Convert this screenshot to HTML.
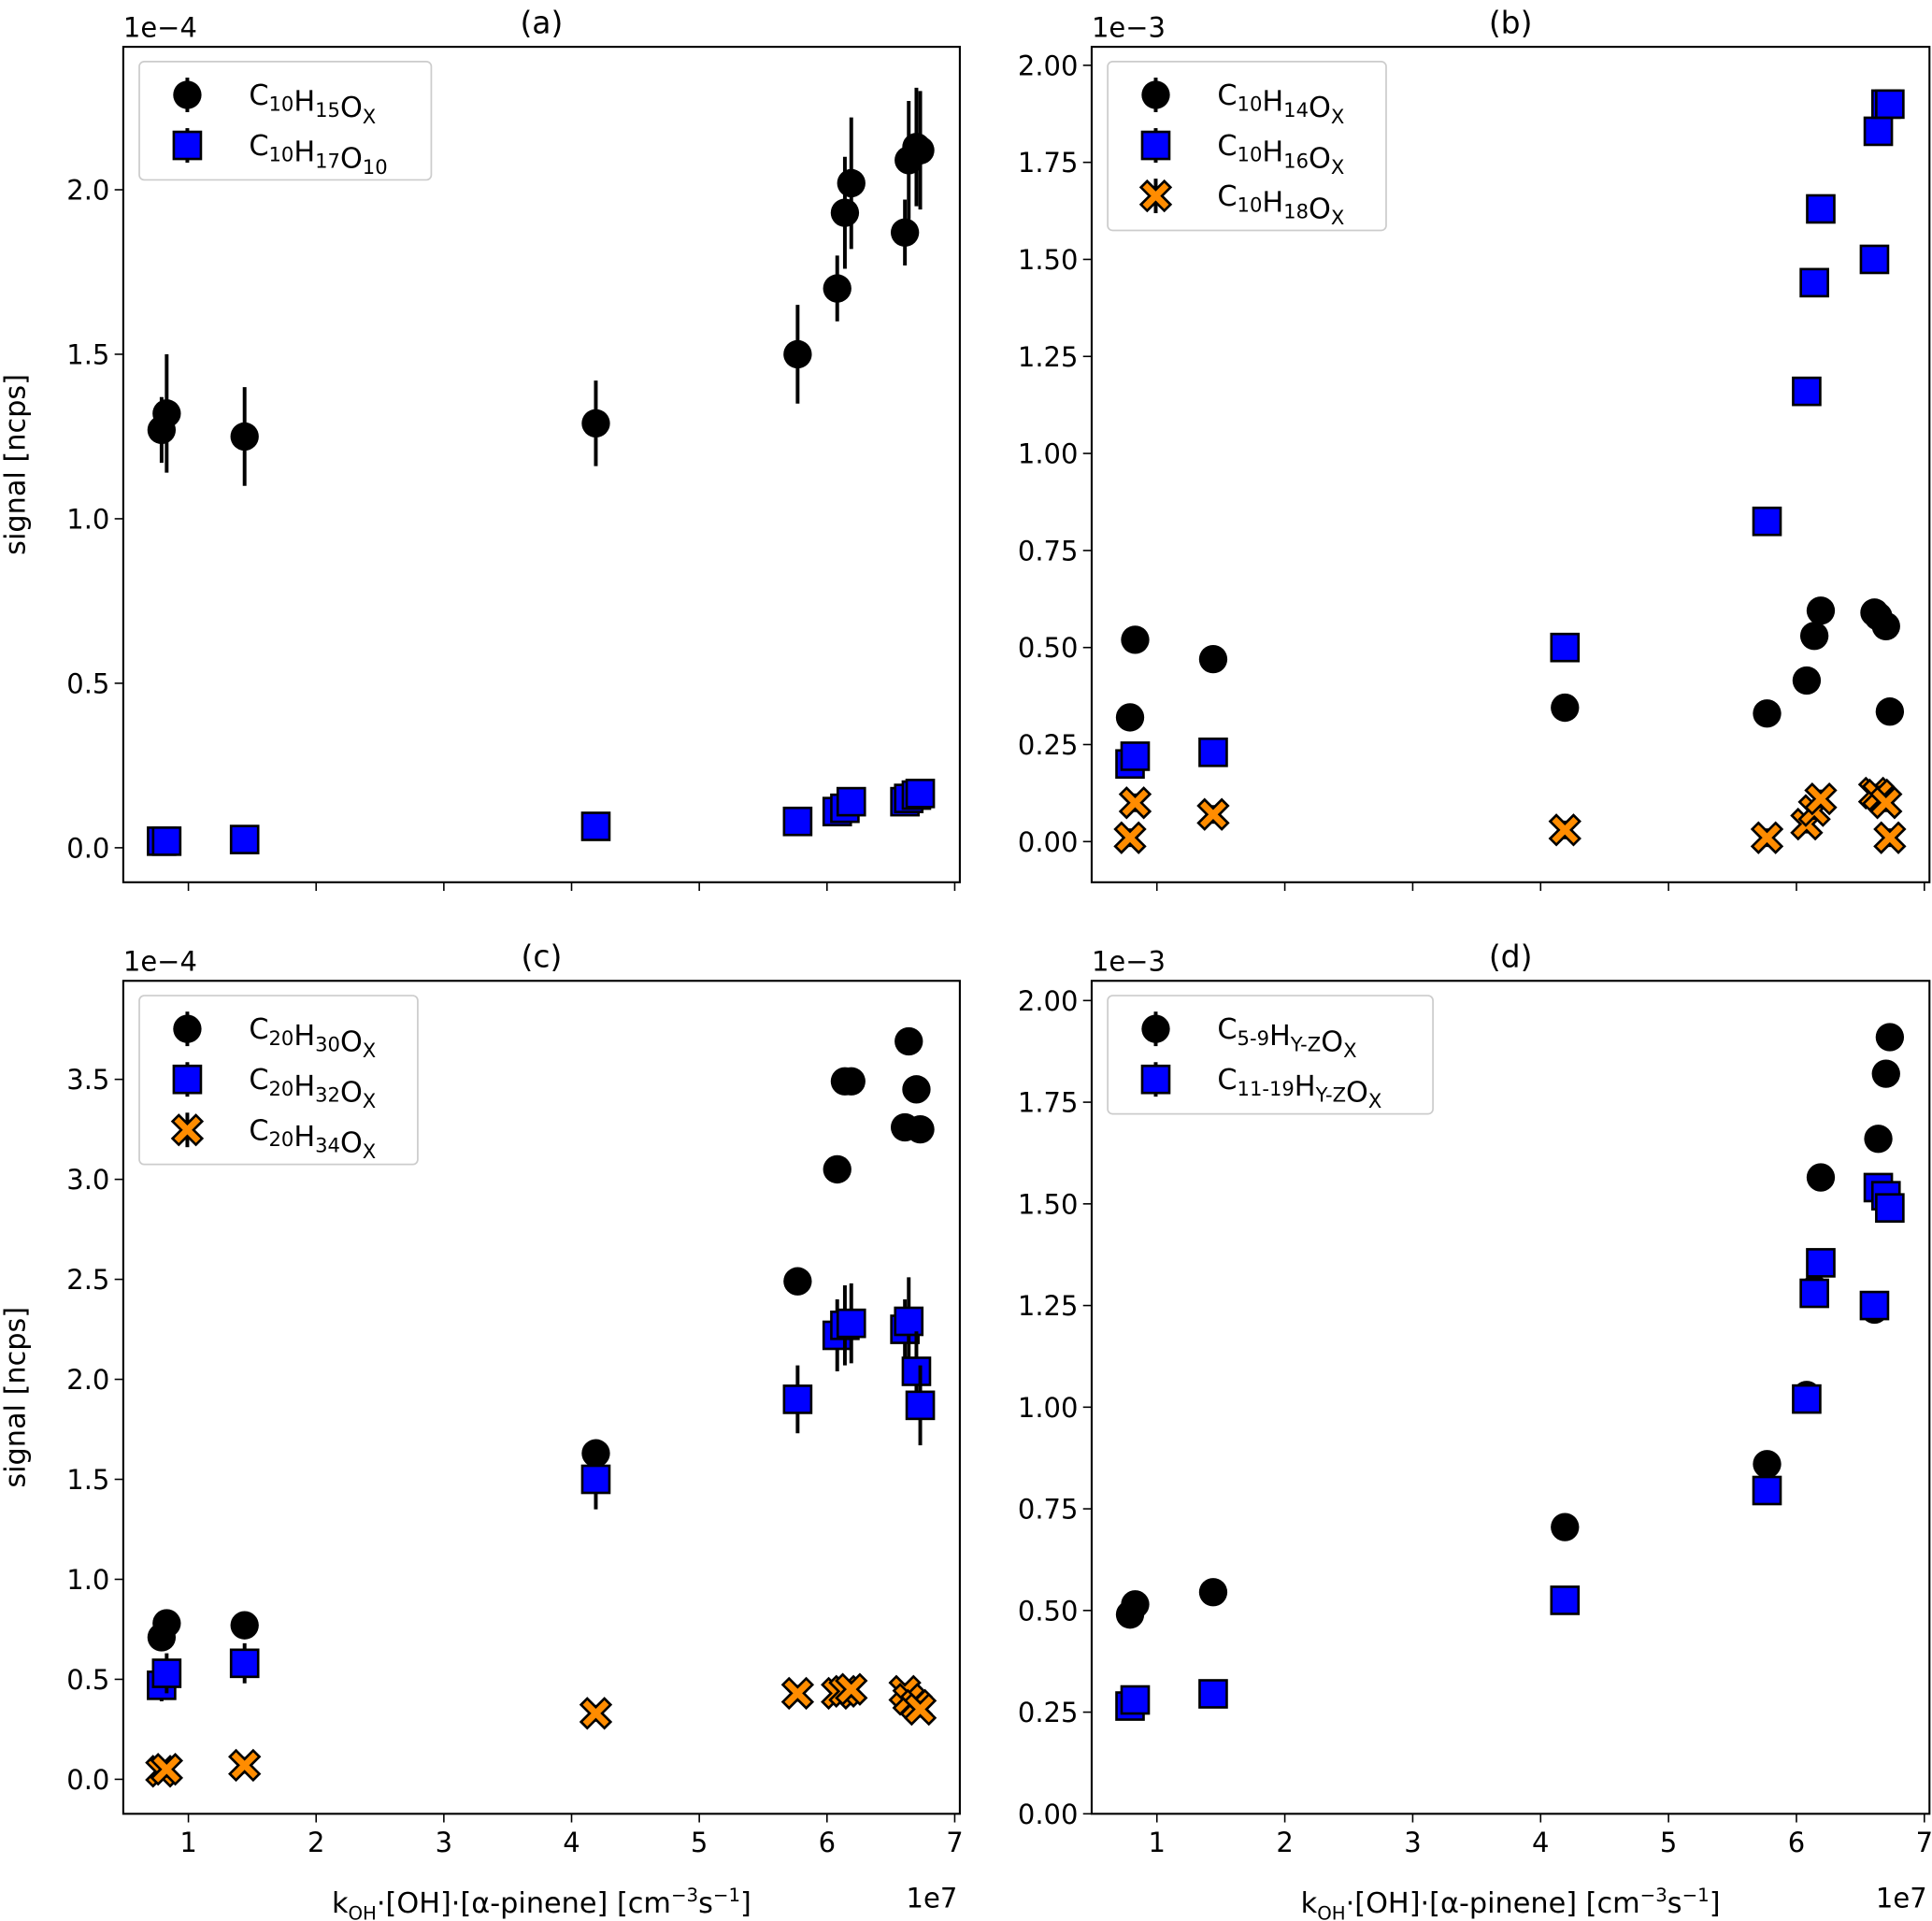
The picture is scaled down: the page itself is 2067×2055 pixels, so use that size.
<!DOCTYPE html>
<html><head><meta charset="utf-8"><style>
html,body{margin:0;padding:0;background:#fff}
svg{display:block;font-family:"DejaVu Sans","Liberation Sans",sans-serif}
</style></head><body>
<svg id="fig" width="2067" height="2055" viewBox="0 0 1568 1559" xmlns="http://www.w3.org/2000/svg"></svg>
<script>
const xVals=[0.79,0.83,1.44,4.19,5.77,6.08,6.14,6.19,6.61,6.64,6.70,6.73];
const xTicks=[1,2,3,4,5,6,7];
const aBlack=[1.27,1.32,1.25,1.29,1.50,1.70,1.93,2.02,1.87,2.09,2.13,2.12];
const aBlackErr=[0.1,0.18,0.15,0.13,0.15,0.1,0.17,0.2,0.1,0.18,0.18,0.18];
const aBlue=[0.02,0.02,0.025,0.065,0.08,0.11,0.12,0.14,0.14,0.15,0.16,0.165];
const bBlack=[0.32,0.52,0.47,0.345,0.33,0.415,0.53,0.595,0.59,0.58,0.555,0.335];
const bBlue=[0.20,0.22,0.23,0.50,0.825,1.16,1.44,1.63,1.50,1.83,1.90,1.90];
const bOrange=[0.01,0.10,0.07,0.03,0.01,0.045,0.08,0.11,0.125,0.12,0.10,0.01];
const cBlack=[0.71,0.78,0.77,1.63,2.49,3.05,3.49,3.49,3.26,3.69,3.45,3.25];
const cBlue=[0.47,0.53,0.58,1.50,1.90,2.22,2.27,2.28,2.25,2.29,2.04,1.87];
const cBlueErr=[0.08,0.1,0.1,0.15,0.17,0.18,0.2,0.2,0.15,0.22,0.2,0.2];
const cOrange=[0.04,0.05,0.07,0.33,0.43,0.43,0.44,0.45,0.44,0.40,0.37,0.35];
const dBlack=[0.49,0.515,0.545,0.705,0.86,1.03,1.29,1.565,1.24,1.66,1.82,1.91];
const dBlue=[0.265,0.28,0.295,0.525,0.795,1.02,1.28,1.355,1.25,1.54,1.52,1.49];
const aTicks=[0,0.5,1.0,1.5,2.0], aLabels=["0.0","0.5","1.0","1.5","2.0"];
const bTicks=[0,0.25,0.5,0.75,1,1.25,1.5,1.75,2], bLabels=["0.00","0.25","0.50","0.75","1.00","1.25","1.50","1.75","2.00"];
const cTicks=[0,0.5,1,1.5,2,2.5,3,3.5], cLabels=["0.0","0.5","1.0","1.5","2.0","2.5","3.0","3.5"];

const NS="http://www.w3.org/2000/svg", svg=document.getElementById('fig');
function el(tag,attrs,parent,text){const e=document.createElementNS(NS,tag);for(const k in attrs)e.setAttribute(k,attrs[k]);if(text!==undefined)e.textContent=text;(parent||svg).appendChild(e);return e;}

function panel(p){
  const g=el('g',{});
  
  
  const X=v=>p.l+(v-0.49)/(7.04-0.49)*(p.r-p.l);
  const Y=v=>p.y0+(v-p.v0)*p.k;
  xTicks.forEach(t=>{
    const ln=el('line',{x1:X(t),x2:X(t),y1:p.b,y2:p.b+7,stroke:'#000','stroke-width':1.2},g);
    
    if(p.xlab){const tx=el('text',{x:X(t),y:p.b+31,'font-size':22,'text-anchor':'middle'},g,String(t));
      }
  });
  p.yt.forEach((t,i)=>{
    const ln=el('line',{x1:p.l-7,x2:p.l,y1:Y(t),y2:Y(t),stroke:'#000','stroke-width':1.2},g);
    
    const tx=el('text',{x:p.l-11,y:Y(t)+8,'font-size':22,'text-anchor':'end'},g,p.yl[i]);
    
  });
  p.series.forEach(s=>{
    const sg=el('g',{},g);
    
    s.vals.forEach((v,i)=>{
      const cx=X(xVals[i]),cy=Y(v),e=s.err?s.err[i]:0.012*(p.yt[p.yt.length-1]);
      const eb=el('line',{x1:cx,x2:cx,y1:Y(v-e),y2:Y(v+e),stroke:'#000','stroke-width':3},sg);
      
      let m;
      if(s.m==='o') m=el('circle',{cx:cx,cy:cy,r:11.5,fill:'#000'},sg);
      else if(s.m==='s') m=el('rect',{x:cx-11,y:cy-11,width:22,height:22,fill:'#0000ff',stroke:'#000','stroke-width':2},sg);
      else m=el('path',{d:xPath(cx,cy,12),fill:'#ff8c00',stroke:'#000','stroke-width':2},sg);
      
    });
  });
  const fr=el('rect',{x:p.l,y:p.t,width:p.r-p.l,height:p.b-p.t,fill:'none',stroke:'#000','stroke-width':1.6},g);
  
  const ot=el('text',{x:p.l,y:p.t-8,'font-size':22},g,p.off);
  
  const ti=el('text',{x:(p.l+p.r)/2,y:p.t-11,'font-size':25,'text-anchor':'middle'},g,'('+p.id+')');
  
  if(p.ylab){const yl=el('text',{x:0,y:0,'font-size':23,'text-anchor':'middle',transform:`translate(20,${(p.t+p.b)/2}) rotate(-90)`},g,'signal [ncps]');
    }
  if(p.xlab){
    const xl=el('text',{x:(p.l+p.r)/2,y:p.b+80,'font-size':23,'text-anchor':'middle'},g);
    xl.innerHTML='k<tspan font-size="15" dy="6">OH</tspan><tspan dy="-6">·[OH]·[α-pinene] [cm</tspan><tspan font-size="15" dy="-9">−3</tspan><tspan dy="9">s</tspan><tspan font-size="15" dy="-9">−1</tspan><tspan dy="9">]</tspan>';
    
    const ex=el('text',{x:p.r-2,y:p.b+76,'font-size':22,'text-anchor':'end'},g,'1e7');
    
  }
  const L=p.leg;
  const lg=el('g',{},g);
  el('rect',{x:p.l+13,y:p.t+12,width:L.w,height:L.items.length*41+14,rx:4,fill:'#fff',stroke:'#ccc','stroke-width':1.3},lg);
  L.items.forEach((it,i)=>{
    const cy=p.t+39+i*41,cx=p.l+52;
    const eg=el('g',{},lg);
    el('line',{x1:cx,x2:cx,y1:cy-14,y2:cy+14,stroke:'#000','stroke-width':3},eg);
    if(it.m==='o') el('circle',{cx:cx,cy:cy,r:11.5,fill:'#000'},eg);
    else if(it.m==='s') el('rect',{x:cx-11,y:cy-11,width:22,height:22,fill:'#0000ff',stroke:'#000','stroke-width':2},eg);
    else el('path',{d:xPath(cx,cy,12),fill:'#ff8c00',stroke:'#000','stroke-width':2},eg);
    const t=el('text',{x:p.l+102,y:cy+8,'font-size':23},eg);t.innerHTML=it.html;
  });
}
function xPath(cx,cy,r){const a=r*0.42;
  const pts=[[-r+a,-r],[0,-a],[r-a,-r],[r,-r+a],[a,0],[r,r-a],[r-a,r],[0,a],[-r+a,r],[-r,r-a],[-a,0],[-r,-r+a]];
  return 'M'+pts.map(q=>(cx+q[0])+','+(cy+q[1])).join('L')+'Z';}
const sub=s=>`<tspan font-size="16" dy="5">${s}</tspan><tspan dy="-5"></tspan>`;
const f=(a,b,c)=>'C'+sub(a)+'H'+sub(b)+'O'+sub(c);

panel({id:'a',l:100,r:779,t:38,b:716,y0:688,v0:0,k:-267,yt:aTicks,yl:aLabels,off:'1e−4',ylab:true,xlab:false,
  series:[{name:'c10h15ox',m:'o',vals:aBlack,err:aBlackErr},{name:'c10h17o10',m:'s',vals:aBlue}],
  leg:{w:237,items:[{m:'o',html:f('10','15','X')},{m:'s',html:f('10','17','10')}]}});
panel({id:'b',l:886,r:1566,t:38,b:716,y0:683,v0:0,k:-315,yt:bTicks,yl:bLabels,off:'1e−3',ylab:false,xlab:false,
  series:[{name:'c10h14ox',m:'o',vals:bBlack},{name:'c10h16ox',m:'s',vals:bBlue},{name:'c10h18ox',m:'x',vals:bOrange}],
  leg:{w:226,items:[{m:'o',html:f('10','14','X')},{m:'s',html:f('10','16','X')},{m:'x',html:f('10','18','X')}]}});
panel({id:'c',l:100,r:779,t:796,b:1472,y0:1444,v0:0,k:-162.3,yt:cTicks,yl:cLabels,off:'1e−4',ylab:true,xlab:true,
  series:[{name:'c20h30ox',m:'o',vals:cBlack},{name:'c20h32ox',m:'s',vals:cBlue,err:cBlueErr},{name:'c20h34ox',m:'x',vals:cOrange}],
  leg:{w:226,items:[{m:'o',html:f('20','30','X')},{m:'s',html:f('20','32','X')},{m:'x',html:f('20','34','X')}]}});
panel({id:'d',l:886,r:1566,t:796,b:1472,y0:1472,v0:0,k:-330,yt:bTicks,yl:bLabels,off:'1e−3',ylab:false,xlab:true,
  series:[{name:'c5-9',m:'o',vals:dBlack},{name:'c11-19',m:'s',vals:dBlue}],
  leg:{w:264,items:[{m:'o',html:'C'+sub('5-9')+'H'+sub('Y-Z')+'O'+sub('X')},{m:'s',html:'C'+sub('11-19')+'H'+sub('Y-Z')+'O'+sub('X')}]}});
</script>
</body></html>
